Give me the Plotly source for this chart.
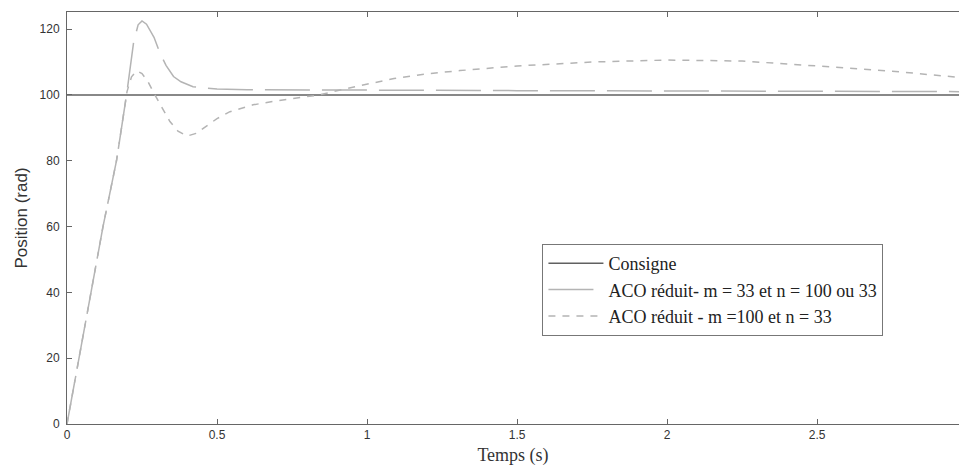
import plotly.graph_objects as go

# Consigne (setpoint)
t_consigne = [0, 3.0]
y_consigne = [100, 100]

# ACO réduit - m = 33 et n = 100 ou 33
t_m33 = [0, 0.04, 0.08, 0.12, 0.165, 0.2, 0.222, 0.237, 0.25, 0.265, 0.29, 0.31, 0.33,
         0.355, 0.38, 0.42, 0.46, 0.5, 0.6, 0.8, 1.0, 1.5, 2.0, 2.5, 2.98]
y_m33 = [0, 20, 40, 60, 80, 101, 116, 121.3, 122.5, 121.5, 117.5, 112.7, 109,
         105.6, 104, 102.5, 102.1, 101.8, 101.6, 101.5, 101.4, 101.3, 101.2, 101.1, 101]

# ACO réduit - m = 100 et n = 33
t_m100 = [0, 0.04, 0.08, 0.12, 0.165, 0.2, 0.215, 0.232, 0.25, 0.27, 0.293, 0.32, 0.343,
          0.37, 0.4, 0.43, 0.454, 0.5, 0.543, 0.62, 0.7, 0.78, 0.84, 0.92, 1.0, 1.09,
          1.2, 1.31, 1.5, 1.75, 2.0, 2.25, 2.5, 2.75, 2.98]
y_m100 = [0, 20, 40, 60, 80, 101, 105.5, 107.3, 106.5, 104, 100, 95.5, 91.9,
          89, 87.5, 88.3, 89.9, 92.8, 94.9, 97, 98.2, 99.3, 100, 101.7, 103.3, 105,
          106.4, 107.4, 108.8, 110, 110.6, 110.3, 108.8, 107.2, 105.3]

x_ticks = [0, 0.5, 1, 1.5, 2, 2.5]
x_ticklabels = ["0", "0.5", "1", "1.5", "2", "2.5"]
y_ticks = [0, 20, 40, 60, 80, 100, 120]

fig = go.Figure()
fig.add_trace(go.Scatter(x=t_consigne, y=y_consigne, mode="lines", name="Consigne",
                         line=dict(color="#606060", width=1.5)))
fig.add_trace(go.Scatter(x=t_m33, y=y_m33, mode="lines",
                         name="ACO réduit- m = 33 et n = 100 ou 33",
                         line=dict(color="#b4b4b4", width=1.5, dash="45px,12px")))
fig.add_trace(go.Scatter(x=t_m100, y=y_m100, mode="lines",
                         name="ACO réduit - m =100 et n = 33",
                         line=dict(color="#b4b4b4", width=1.5, dash="7px,7px")))

fig.update_layout(
    width=959, height=470,
    margin=dict(l=67, r=0, t=12, b=46),
    plot_bgcolor="white", paper_bgcolor="white",
    showlegend=True,
    legend=dict(x=0.533, y=0.437, xanchor="left", yanchor="top",
                bgcolor="white", bordercolor="#777777", borderwidth=1,
                font=dict(family="Liberation Serif", size=18, color="#222222"),
                tracegroupgap=0, itemwidth=55),
    font=dict(family="Liberation Sans", size=12, color="#333333"),
)
fig.update_xaxes(range=[0, 2.973], tickvals=x_ticks, ticktext=x_ticklabels,
                 ticks="inside", ticklen=5, tickcolor="#666666",
                 showline=True, linecolor="#666666", linewidth=1, mirror="ticks",
                 showgrid=False, zeroline=False,
                 tickfont=dict(family="Liberation Sans Narrow, Liberation Sans", size=12, color="#333333"),
                 title=dict(text="Temps (s)", font=dict(family="Liberation Serif", size=18, color="#333333"),
                            standoff=6))
fig.update_yaxes(range=[0, 125.2], tickvals=y_ticks,
                 ticks="inside", ticklen=5, tickcolor="#666666",
                 showline=True, linecolor="#666666", linewidth=1, mirror=False,
                 showgrid=False, zeroline=False,
                 tickfont=dict(family="Liberation Sans", size=12, color="#333333"),
                 ticklabelstandoff=4,
                 title=dict(text="Position (rad)", font=dict(family="Liberation Sans", size=17, color="#333333"),
                            standoff=7))

fig.write_html("out.html")
